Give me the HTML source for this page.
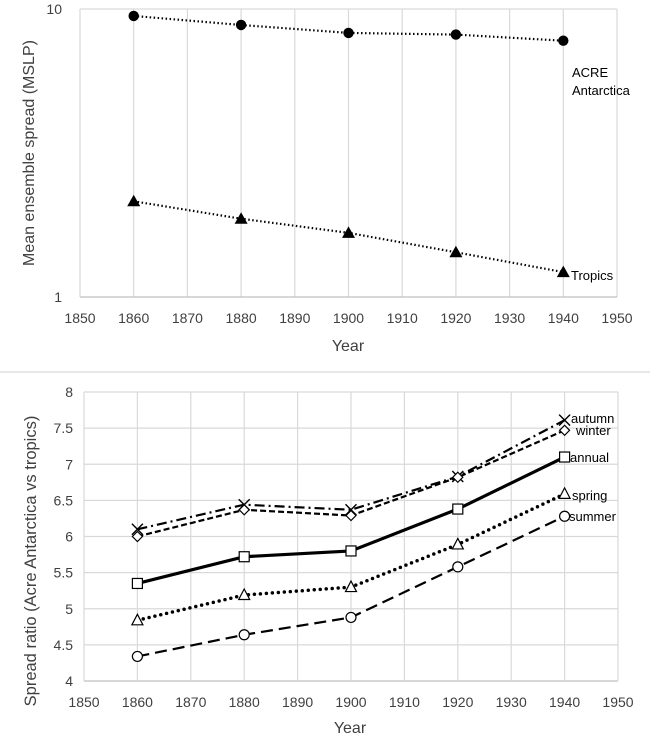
<!DOCTYPE html>
<html><head><meta charset="utf-8"><style>
html,body{margin:0;padding:0;background:#fff;}
svg{display:block;font-family:"Liberation Sans",sans-serif;}
</style></head><body>
<svg id="c" width="650" height="737" viewBox="0 0 650 737" xmlns="http://www.w3.org/2000/svg"></svg>
<script>
const years=[1860,1880,1900,1920,1940];
const xTicks=[1850,1860,1870,1880,1890,1900,1910,1920,1930,1940,1950];
const acreValues=[9.46,8.80,8.26,8.15,7.76];
const tropicsValues=[2.15,1.87,1.67,1.43,1.22];
const topYTicks=[1,10];
const autumn=[6.10,6.44,6.37,6.83,7.61];
const winter=[6.00,6.37,6.29,6.82,7.47];
const annual=[5.35,5.72,5.80,6.38,7.10];
const spring=[4.84,5.19,5.30,5.89,6.59];
const summer=[4.34,4.64,4.88,5.58,6.28];
const botYTicks=[4,4.5,5,5.5,6,6.5,7,7.5,8];

const svg=document.getElementById('c');
const NS='http://www.w3.org/2000/svg';
function mk(tag,attrs,parent,text){const e=document.createElementNS(NS,tag);for(const k in attrs)e.setAttribute(k,attrs[k]);if(text!==undefined)e.textContent=text;(parent||svg).appendChild(e);return e;}

const sep=mk('line',{x1:0,x2:650,y1:372,y2:372,stroke:'#d0d0d0','stroke-width':1});



// ---------- top chart ----------
const T={l:80,r:617,t:9,b:297};
const tx=v=>T.l+(v-1850)/100*(T.r-T.l);
const ty=v=>T.b-Math.log10(v)*(T.b-T.t);
const gTop=mk('g',{});


xTicks.forEach(v=>{
  const g=mk('line',{x1:tx(v),x2:tx(v),y1:T.t,y2:T.b,stroke:'#d9d9d9','stroke-width':1.2},gTop);
  
  
  const t=mk('text',{x:tx(v),y:323,'font-size':14,'text-anchor':'middle',fill:'#404040'},gTop,v);
  
  
});
mk('line',{x1:T.l,x2:T.r,y1:T.t,y2:T.t,stroke:'#d9d9d9','stroke-width':1.2},gTop);
mk('line',{x1:T.l,x2:T.r,y1:T.b,y2:T.b,stroke:'#bfbfbf','stroke-width':1.2},gTop);
topYTicks.forEach(v=>{
  const t=mk('text',{x:62,y:ty(v)+5,'font-size':14,'text-anchor':'end',fill:'#404040'},gTop,v);
  
  
});
function polyline(xs,ys,xf,yf,attrs,parent,name){
  const p=mk('polyline',Object.assign({points:xs.map((x,i)=>xf(x)+','+yf(ys[i])).join(' '),fill:'none'},attrs),parent);
  
  
  return p;
}
polyline(years,acreValues,tx,ty,{stroke:'#000','stroke-width':2.2,'stroke-dasharray':'1.5 2.5'},gTop,'acre-antarctica-line');
polyline(years,tropicsValues,tx,ty,{stroke:'#000','stroke-width':2.2,'stroke-dasharray':'1.5 2.5'},gTop,'tropics-line');
years.forEach((y,i)=>{
  const c=mk('circle',{cx:tx(y),cy:ty(acreValues[i]),r:5.2,fill:'#000'},gTop);
  
  
  const x=tx(y),yy=ty(tropicsValues[i]);
  const p=mk('polygon',{points:`${x},${yy-6.5} ${x-6.5},${yy+5} ${x+6.5},${yy+5}`,fill:'#000'},gTop);
  
  
});
const l1=mk('text',{x:572,y:77,'font-size':13,fill:'#000'},gTop,'ACRE');


const l2=mk('text',{x:572,y:95,'font-size':13,fill:'#000'},gTop,'Antarctica');


const l3=mk('text',{x:571,y:280,'font-size':13,fill:'#000'},gTop,'Tropics');


const yt1=mk('text',{x:0,y:0,'font-size':16,'text-anchor':'middle',fill:'#404040',transform:'translate(34,153) rotate(-90)'},gTop,'Mean ensemble spread (MSLP)');


const xt1=mk('text',{x:348,y:351,'font-size':16,'text-anchor':'middle',fill:'#404040'},gTop,'Year');



// ---------- bottom chart ----------
const B={l:84,r:618,t:392,b:681};
const bx=v=>B.l+(v-1850)/100*(B.r-B.l);
const by=v=>B.b-(v-4)/4*(B.b-B.t);
const gBot=mk('g',{});


botYTicks.forEach(v=>{
  const g=mk('line',{x1:B.l,x2:B.r,y1:by(v),y2:by(v),stroke:v===4?'#bfbfbf':'#d9d9d9','stroke-width':1.2},gBot);
  
  
  const t=mk('text',{x:73,y:by(v)+5,'font-size':14,'text-anchor':'end',fill:'#404040'},gBot,v);
  
  
});
xTicks.forEach(v=>{
  const g=mk('line',{x1:bx(v),x2:bx(v),y1:B.t,y2:B.b,stroke:'#d9d9d9','stroke-width':1.2},gBot);
  
  
  const t=mk('text',{x:bx(v),y:707,'font-size':14,'text-anchor':'middle',fill:'#404040'},gBot,v);
  
  
});
polyline(years,autumn,bx,by,{stroke:'#000','stroke-width':2.2,'stroke-dasharray':'10 4 2 4'},gBot,'autumn-line');
polyline(years,winter,bx,by,{stroke:'#000','stroke-width':2.2,'stroke-dasharray':'6 3'},gBot,'winter-line');
polyline(years,annual,bx,by,{stroke:'#000','stroke-width':3.2},gBot,'annual-line');
polyline(years,spring,bx,by,{stroke:'#000','stroke-width':3.5,'stroke-dasharray':'0 6','stroke-linecap':'round'},gBot,'spring-line');
polyline(years,summer,bx,by,{stroke:'#000','stroke-width':2.2,'stroke-dasharray':'12 6'},gBot,'summer-line');
years.forEach((y,i)=>{
  const x=bx(y);
  let v=by(autumn[i]);
  const a=mk('path',{d:`M${x-5.5},${v-5.5}L${x+5.5},${v+5.5}M${x-5.5},${v+5.5}L${x+5.5},${v-5.5}`,stroke:'#000','stroke-width':1.4,fill:'none'},gBot);
  
  
  v=by(winter[i]);
  const w=mk('polygon',{points:`${x},${v-5} ${x+5},${v} ${x},${v+5} ${x-5},${v}`,stroke:'#000','stroke-width':1.2,fill:'#fff'},gBot);
  
  
  v=by(annual[i]);
  const s=mk('rect',{x:x-5,y:v-5,width:10,height:10,stroke:'#000','stroke-width':1.2,fill:'#fff'},gBot);
  
  
  v=by(spring[i]);
  const t=mk('polygon',{points:`${x},${v-6} ${x-5.5},${v+4.5} ${x+5.5},${v+4.5}`,stroke:'#000','stroke-width':1.2,fill:'#fff'},gBot);
  
  
  v=by(summer[i]);
  const c=mk('circle',{cx:x,cy:v,r:5,stroke:'#000','stroke-width':1.2,fill:'#fff'},gBot);
  
  
});
const seriesLabels=[['autumn',571,423],['winter',576,435],['annual',570,462],['spring',572,500],['summer',569,521]];
seriesLabels.forEach(([s,x,y])=>{
  const t=mk('text',{x:x,y:y,'font-size':13,fill:'#000'},gBot,s);
  
  
});
const yt2=mk('text',{x:0,y:0,'font-size':16.5,'text-anchor':'middle',fill:'#404040',transform:'translate(36,561) rotate(-90)'},gBot,'Spread ratio (Acre Antarctica vs tropics)');


const xt2=mk('text',{x:350,y:733,'font-size':16,'text-anchor':'middle',fill:'#404040'},gBot,'Year');


</script>
</body></html>
